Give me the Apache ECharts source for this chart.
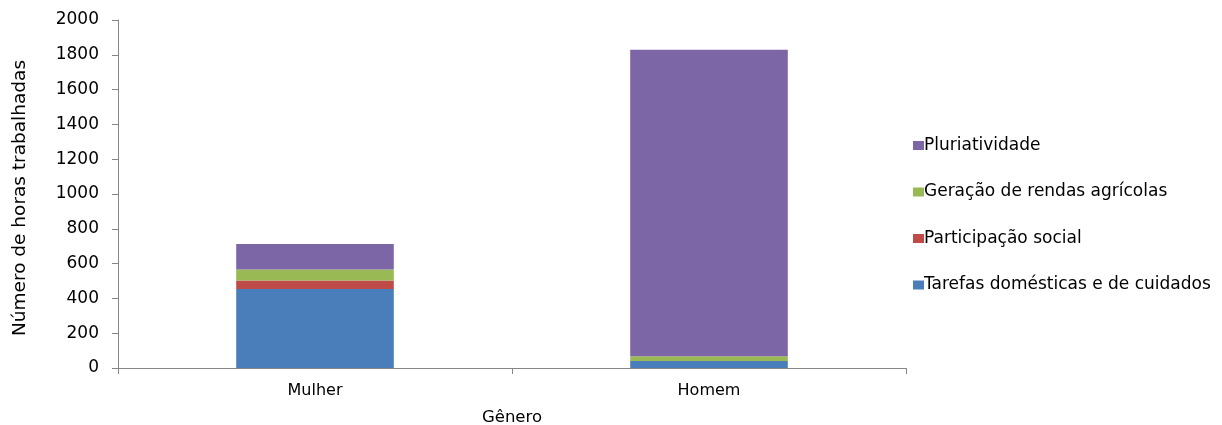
<!DOCTYPE html>
<html><head><meta charset="utf-8">
<script src="https://cdn.jsdelivr.net/npm/echarts@6/dist/echarts.min.js"></script>
<style>html,body{margin:0;padding:0;background:#fff}#c{width:1222px;height:425px}</style>
</head><body><div id="c"></div>
<script>
var categories = ['Mulher', 'Homem'];
var seriesNames = ['Tarefas domésticas e de cuidados', 'Participação social', 'Geração de rendas agrícolas', 'Pluriatividade'];
var tarefas = [454, 40];
var participacao = [49, 0];
var geracao = [63, 27];
var pluriatividade = [146, 1762];
var colors = ['#4A7EBB', '#BE4B48', '#98B954', '#7D66A5'];
var values = [tarefas, participacao, geracao, pluriatividade];

var FONT = 'DejaVu Sans';
var chart = echarts.init(document.getElementById('c'));
chart.setOption({
  animation: false,
  textStyle: {fontFamily: FONT},
  grid: {left: 118, right: 316, top: 20, bottom: 57, containLabel: false, outerBoundsMode: 'none'},
  legend: {
    orient: 'vertical', left: 908, top: 132, itemGap: 29.5,
    itemWidth: 11, itemHeight: 9, icon: 'rect',
    data: seriesNames.slice().reverse(),
    textStyle: {fontFamily: FONT, fontSize: 17, color: '#000', padding: [0,0,0,-5]}
  },
  xAxis: {
    type: 'category', data: categories,
    name: 'Gênero', nameLocation: 'middle', nameGap: 41,
    nameTextStyle: {fontFamily: FONT, fontSize: 16.5, color: '#000'},
    axisLine: {lineStyle: {color: '#868686', width: 1}},
    axisTick: {show: true, length: 6, lineStyle: {color: '#868686'}},
    axisLabel: {fontFamily: FONT, fontSize: 16, color: '#000', margin: 15}
  },
  yAxis: {
    type: 'value', min: 0, max: 2000, interval: 200,
    name: 'Número de horas trabalhadas', nameLocation: 'middle', nameGap: 88, nameRotate: 90,
    nameTextStyle: {fontFamily: FONT, fontSize: 18.5, color: '#000', padding: [0, 8, 0, 0]},
    axisLine: {show: true, lineStyle: {color: '#868686', width: 1}},
    axisTick: {show: true, length: 6, lineStyle: {color: '#868686'}},
    splitLine: {show: false},
    axisLabel: {fontFamily: FONT, fontSize: 17, color: '#000', margin: 19,
      formatter: function (v) { return String(v); }}
  },
  series: seriesNames.map(function (n, i) {
    return {
      name: n, type: 'bar', stack: 'total', data: values[i],
      barWidth: '40%', itemStyle: {color: colors[i]}
    };
  })
});
</script></body></html>
